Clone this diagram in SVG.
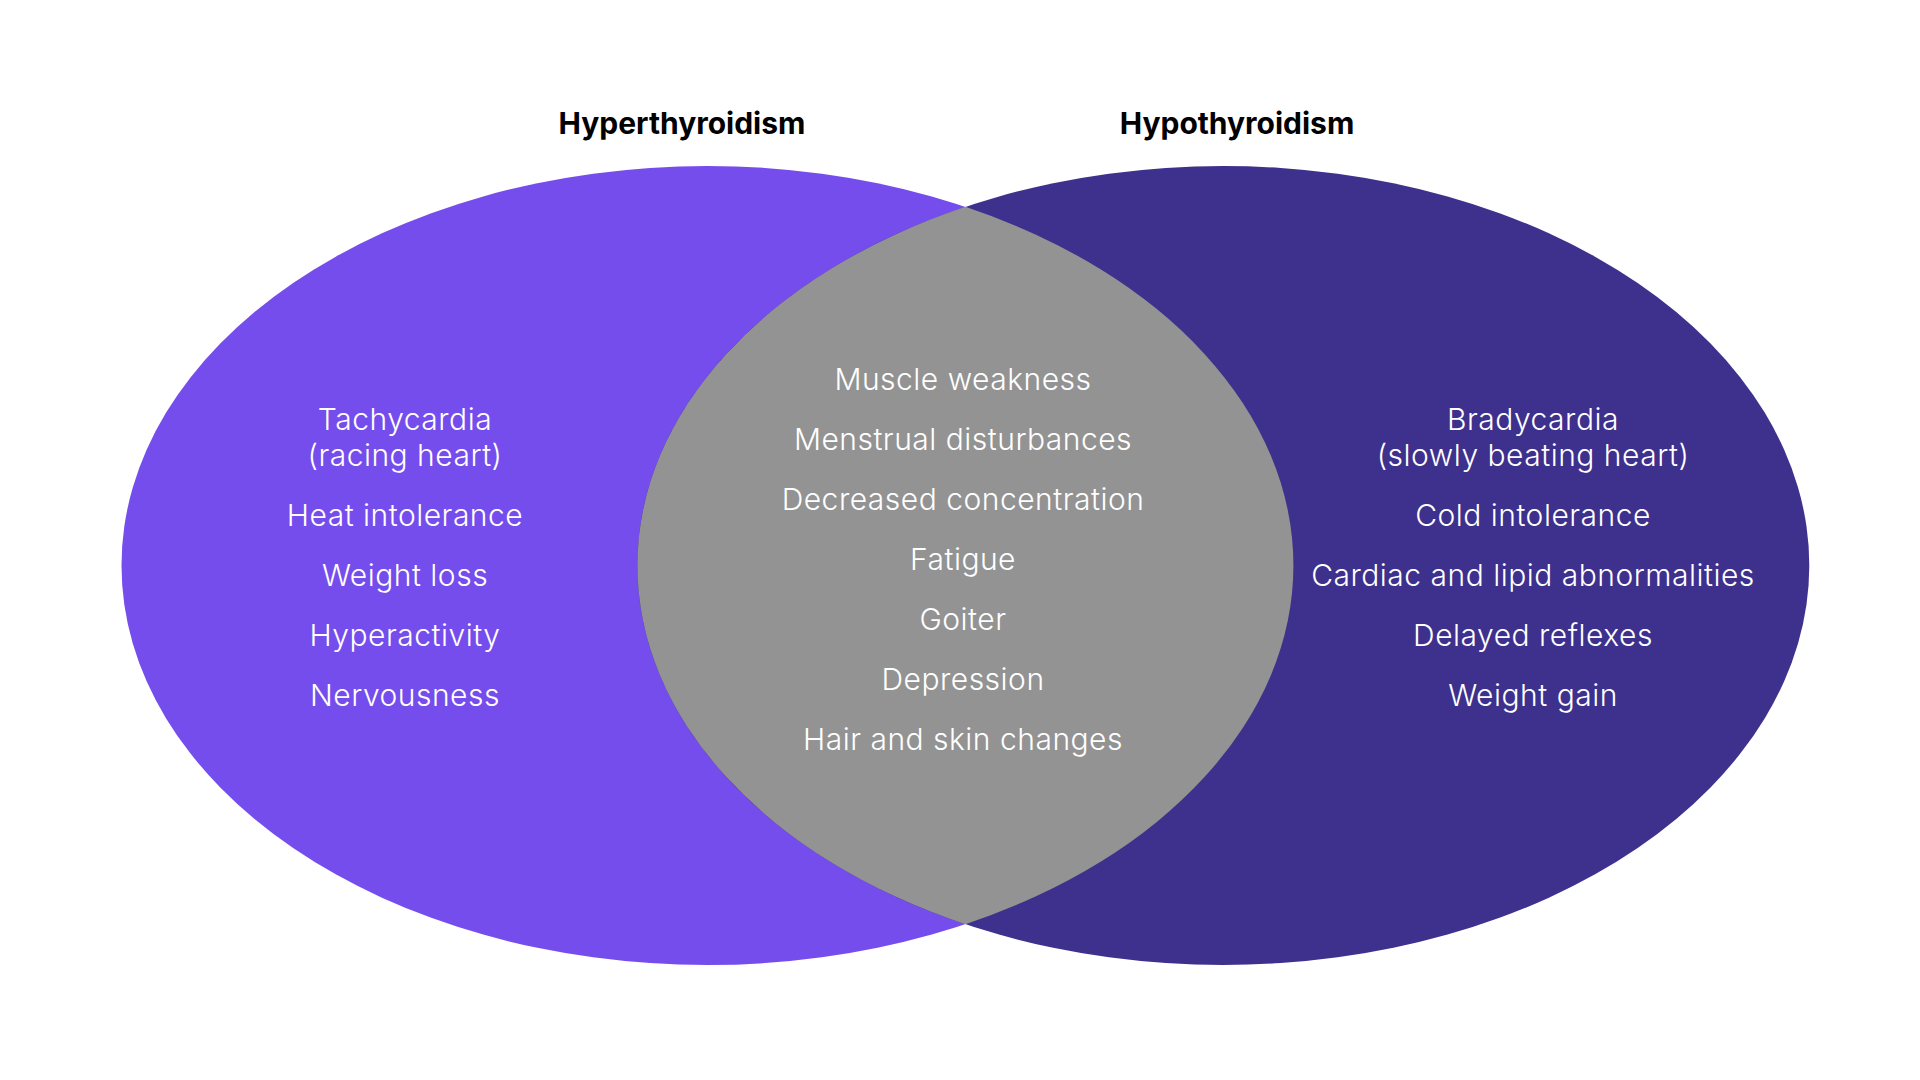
<svg xmlns="http://www.w3.org/2000/svg" width="1920" height="1080" viewBox="0 0 1920 1080">
<style>
.title{font-family:Inter,"Liberation Sans",sans-serif;font-weight:700;font-size:30px;fill:#000;text-anchor:middle}
.item{font-family:Inter,"Liberation Sans",sans-serif;font-weight:300;font-size:30px;letter-spacing:0.5px;fill:#fff;text-anchor:middle}
</style>
<rect width="1920" height="1080" fill="#fff"/>
<g id="hyperthyroidism">
<ellipse cx="707.5" cy="565.5" rx="586" ry="399.5" fill="#764ded"/>
<text class="title" x="682" y="134">Hyperthyroidism</text>
<text class="item" x="405" y="430">Tachycardia</text>
<text class="item" x="405" y="466">(racing heart)</text>
<text class="item" x="405" y="526">Heat intolerance</text>
<text class="item" x="405" y="586">Weight loss</text>
<text class="item" x="405" y="646">Hyperactivity</text>
<text class="item" x="405" y="706">Nervousness</text>
</g>
<g id="hypothyroidism">
<ellipse cx="1223.3" cy="565.5" rx="586" ry="399.5" fill="#3e308d"/>
<text class="title" x="1237" y="134">Hypothyroidism</text>
<text class="item" x="1533" y="430">Bradycardia</text>
<text class="item" x="1533" y="466">(slowly beating heart)</text>
<text class="item" x="1533" y="526">Cold intolerance</text>
<text class="item" x="1533" y="586">Cardiac and lipid abnormalities</text>
<text class="item" x="1533" y="646">Delayed reflexes</text>
<text class="item" x="1533" y="706">Weight gain</text>
</g>
<g id="shared">
<path d="M965.4,206.8 A586,399.5 0 0 0 965.4,924.2 A586,399.5 0 0 0 965.4,206.8 Z" fill="#939393"/>
<text class="item" x="963" y="390">Muscle weakness</text>
<text class="item" x="963" y="450">Menstrual disturbances</text>
<text class="item" x="963" y="510">Decreased concentration</text>
<text class="item" x="963" y="570">Fatigue</text>
<text class="item" x="963" y="630">Goiter</text>
<text class="item" x="963" y="690">Depression</text>
<text class="item" x="963" y="750">Hair and skin changes</text>
</g>
<g id="connectors"/>
</svg>
